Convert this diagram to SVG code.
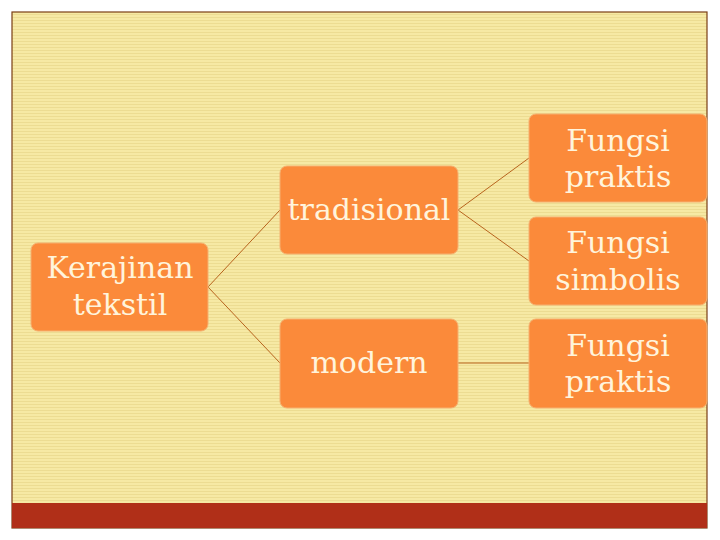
<svg xmlns="http://www.w3.org/2000/svg" width="720" height="540" viewBox="0 0 720 540">
<defs>
<pattern id="stripes" x="0" y="0" width="4" height="3" patternUnits="userSpaceOnUse">
<rect width="4" height="3" fill="#f6e9a4"/>
<rect y="2" width="4" height="1" fill="#ecdc92"/>
</pattern>
</defs>
<style>
.node rect{fill:#fb8a3a;stroke:#f5b070;stroke-width:1}
.node text{font-family:"DejaVu Serif",serif;font-size:30px;fill:#fff4dc;text-anchor:middle}
.conn line{stroke:#b8641e;stroke-width:1}
</style>
<rect width="720" height="540" fill="#ffffff"/>
<rect x="12" y="12" width="695" height="516" fill="url(#stripes)" stroke="#7a3e14" stroke-width="1.2"/>
<rect x="12" y="503" width="695" height="25" fill="#b02f18"/>
<g class="conn">
<line x1="208" y1="287" x2="280" y2="210"/>
<line x1="208" y1="287" x2="280" y2="363"/>
<line x1="458" y1="210" x2="529" y2="158"/>
<line x1="458" y1="210" x2="529" y2="261"/>
<line x1="458" y1="363" x2="529" y2="363"/>
</g>
<g id="kerajinan" class="node">
<rect x="31" y="243" width="177" height="88" rx="7"/>
<text x="120" y="278">Kerajinan</text>
<text x="120" y="315">tekstil</text>
</g>
<g id="tradisional" class="node">
<rect x="280" y="166" width="178" height="88" rx="7"/>
<text x="369" y="220">tradisional</text>
</g>
<g id="modern" class="node">
<rect x="280" y="319" width="178" height="89" rx="7"/>
<text x="369" y="373">modern</text>
</g>
<g id="praktis1" class="node">
<rect x="529" y="114" width="178" height="88" rx="7"/>
<text x="618" y="151">Fungsi</text>
<text x="618" y="187">praktis</text>
</g>
<g id="simbolis" class="node">
<rect x="529" y="217" width="178" height="88" rx="7"/>
<text x="618" y="253">Fungsi</text>
<text x="618" y="290">simbolis</text>
</g>
<g id="praktis2" class="node">
<rect x="529" y="319" width="178" height="89" rx="7"/>
<text x="618" y="356">Fungsi</text>
<text x="618" y="392">praktis</text>
</g>
</svg>
